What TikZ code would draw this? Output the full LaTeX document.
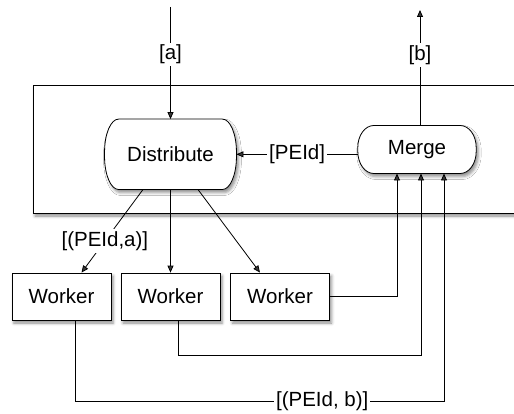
\documentclass[tikz,border=0pt]{standalone}
\usepackage{fontspec}
\setmainfont{Liberation Sans}
\usetikzlibrary{arrows.meta,calc,shadows.blur,backgrounds}
\tikzset{
  lbl/.style={fill=white,inner sep=2pt},
  conn/.style={line width=0.8pt},
  arr/.style={conn,-{Triangle[length=7pt,width=6pt]}},
  softshadow/.style={blur shadow={shadow xshift=2pt,shadow yshift=-3pt,shadow blur radius=3pt,shadow opacity=45}},
  worker/.style={draw,line width=0.8pt,fill=white,minimum width=99pt,minimum height=47pt,inner sep=0pt,softshadow},
  holder/.style={inner sep=0pt},
  capsule/.style={draw,line width=0.8pt,fill=white,softshadow}
}
\newcommand\capsulebox[3]{%
  \draw[capsule] ($(#1.north west)+(#2,0)$) -- ($(#1.north east)+(-#2,0)$)
    arc[start angle=-90,end angle=0,x radius=#2,y radius=#3]
    -- ($(#1.south east)+(0,-#3)$)
    arc[start angle=0,end angle=90,x radius=#2,y radius=#3]
    -- ($(#1.south west)+(#2,0)$)
    arc[start angle=90,end angle=180,x radius=#2,y radius=#3]
    -- ($(#1.north west)+(0,#3)$)
    arc[start angle=180,end angle=270,x radius=#2,y radius=#3] -- cycle;}
\begin{document}
\begin{tikzpicture}[x=1pt,y=-1pt,font=\fontsize{20.5pt}{24pt}\selectfont]
\useasboundingbox (0,0) rectangle (514,414);
% nodes
\node[holder,minimum width=131.5pt,minimum height=70pt] (D) at (170.5,154.3) {Distribute};
\node[holder,minimum width=118pt,minimum height=47.6pt] (M) at (417,149.5) {Merge};
\node[worker] (W1) at (61.5,296.5) {Worker};
\node[worker] (W2) at (170.5,296.5) {Worker};
\node[worker] (W3) at (280,296.5) {Worker};
\coordinate (in) at (170.5,7);
\coordinate (out) at (420,10);
\begin{pgfonlayer}{background}
  \draw[conn,fill=white,softshadow] (33,85) rectangle (540,213);
  \capsulebox{D}{14}{33}
  \capsulebox{M}{16}{22}
\end{pgfonlayer}
% connectors
\draw[arr] (in) -- node[lbl,pos=0.42]{[a]} (D.north);
\draw[arr] (out |- M.north) -- node[lbl,pos=0.61]{[b]} (out);
\draw[arr] (M.west |- D.east) -- node[lbl]{[PEId]} (D.east);
\draw[arr] ([xshift=-27.5pt]D.south) -- node[lbl,pos=0.62]{[(PEId,a)]} ([xshift=20pt]W1.north);
\draw[arr] (D.south) -- (W2.north);
\draw[arr] ([xshift=27.5pt]D.south) -- ([xshift=-20pt]W3.north);
\draw[arr] (W3.east) -| ([xshift=-20pt]M.south);
\draw[arr] ([xshift=7.5pt]W2.south) -- ++(0,35) -| ([xshift=4pt]M.south);
\draw[arr] ([xshift=13.5pt]W1.south) -- ++(0,81) -| node[lbl,pos=0.335]{[(PEId, b)]} ([xshift=27pt]M.south);
\end{tikzpicture}
\end{document}
